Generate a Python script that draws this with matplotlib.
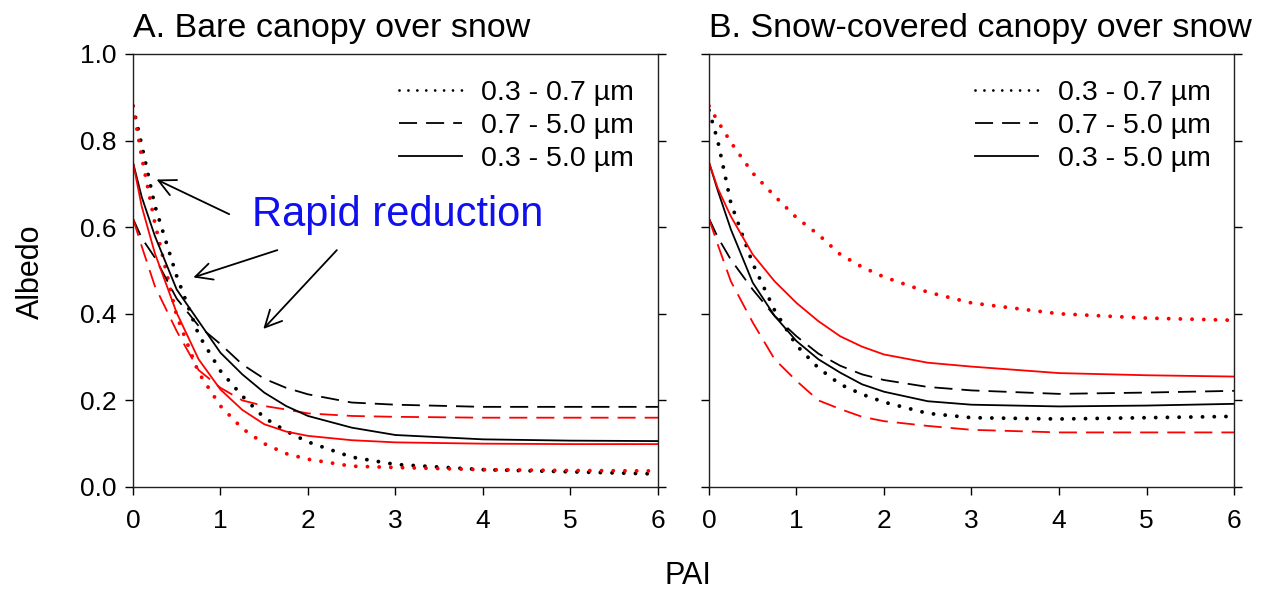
import matplotlib
matplotlib.use("Agg")
import matplotlib.pyplot as plt
from matplotlib.lines import Line2D

plt.rcParams['font.family'] = ['Liberation Sans', 'DejaVu Sans']

# PAI values
pai = [0, 0.1, 0.25, 0.5, 0.75, 1, 1.25, 1.5, 1.75, 2, 2.5, 3, 4, 5, 6]

# A. bare canopy over snow (black / red curves)
a_vis_black = [0.88, 0.79, 0.65, 0.487, 0.352, 0.268, 0.21, 0.16, 0.129, 0.104, 0.069, 0.052, 0.04, 0.035, 0.03]
a_vis_red = [0.88, 0.762, 0.61, 0.395, 0.264, 0.187, 0.135, 0.10, 0.077, 0.064, 0.048, 0.045, 0.04, 0.038, 0.037]
a_nir_black = [0.62, 0.575, 0.53, 0.435, 0.372, 0.33, 0.283, 0.25, 0.229, 0.214, 0.195, 0.19, 0.185, 0.185, 0.185]
a_nir_red = [0.62, 0.556, 0.464, 0.36, 0.27, 0.229, 0.20, 0.187, 0.179, 0.17, 0.164, 0.162, 0.16, 0.16, 0.16]
a_all_black = [0.75, 0.67, 0.58, 0.456, 0.383, 0.31, 0.26, 0.218, 0.187, 0.164, 0.137, 0.12, 0.11, 0.107, 0.106]
a_all_red = [0.75, 0.648, 0.54, 0.402, 0.295, 0.225, 0.178, 0.145, 0.128, 0.118, 0.108, 0.103, 0.10, 0.099, 0.099]

# B. snow-covered canopy over snow
b_vis_black = [0.87, 0.80, 0.656, 0.516, 0.408, 0.327, 0.275, 0.237, 0.214, 0.196, 0.17, 0.16, 0.157, 0.16, 0.163]
b_vis_red = [0.88, 0.845, 0.796, 0.725, 0.672, 0.622, 0.583, 0.537, 0.508, 0.485, 0.45, 0.425, 0.40, 0.39, 0.385]
b_nir_black = [0.62, 0.577, 0.525, 0.456, 0.395, 0.348, 0.308, 0.28, 0.26, 0.247, 0.231, 0.223, 0.215, 0.218, 0.222]
b_nir_red = [0.62, 0.56, 0.475, 0.38, 0.295, 0.245, 0.20, 0.18, 0.162, 0.152, 0.141, 0.132, 0.126, 0.126, 0.126]
b_all_black = [0.75, 0.685, 0.595, 0.472, 0.395, 0.337, 0.295, 0.264, 0.237, 0.22, 0.198, 0.19, 0.186, 0.188, 0.192]
b_all_red = [0.75, 0.69, 0.625, 0.537, 0.475, 0.425, 0.383, 0.348, 0.324, 0.306, 0.287, 0.278, 0.263, 0.258, 0.255]

band_labels = ['0.3 - 0.7 µm', '0.7 - 5.0 µm', '0.3 - 5.0 µm']
titles = ['A. Bare canopy over snow', 'B. Snow-covered canopy over snow']
x_ticks = [0, 1, 2, 3, 4, 5, 6]
y_ticks = [0.0, 0.2, 0.4, 0.6, 0.8, 1.0]

# arrows in panel A: (head, tail) in data units
arrows = [((0.27, 0.71), (1.10, 0.63)),
          ((0.69, 0.484), (1.65, 0.547)),
          ((1.49, 0.365), (2.33, 0.547))]

dot_style = dict(linestyle=(0, (0.01, 3.0)), linewidth=2.8, dash_capstyle='round')
dash_style = dict(linestyle=(0, (10, 5)), linewidth=1.3)
solid_style = dict(linestyle='-', linewidth=1.3)

fig = plt.figure(figsize=(12.71, 5.93), dpi=100, facecolor='white')
ax_a = fig.add_axes([0.1046, 0.1788, 0.4131, 0.7302])
ax_b = fig.add_axes([0.5578, 0.1788, 0.4131, 0.7302])

panels = [(ax_a, a_vis_black, a_vis_red, a_nir_black, a_nir_red, a_all_black, a_all_red),
          (ax_b, b_vis_black, b_vis_red, b_nir_black, b_nir_red, b_all_black, b_all_red)]

for i, (ax, vb, vr, nb, nr, sb, sr) in enumerate(panels):
    ax.plot(pai, vb, color='black', **dot_style)
    ax.plot(pai, vr, color='red', **dot_style)
    ax.plot(pai, nb, color='black', **dash_style)
    ax.plot(pai, nr, color='red', **dash_style)
    ax.plot(pai, sb, color='black', **solid_style)
    ax.plot(pai, sr, color='red', **solid_style)

    ax.set_xlim(0, 6)
    ax.set_ylim(0, 1)
    ax.set_xticks(x_ticks)
    ax.set_yticks(y_ticks)
    if i == 0:
        ax.set_yticklabels(['%.1f' % v for v in y_ticks])
    else:
        ax.set_yticklabels([])
    ax.tick_params(direction='out', length=6, width=1, labelsize=19,
                   right=True, pad=6)
    ax.tick_params(axis='x', pad=10)
    for sp in ax.spines.values():
        sp.set_linewidth(1.0)
        sp.set_color('#202020')

    ax.set_title(titles[i], loc='left', fontsize=24.5, pad=12)

    handles = [Line2D([], [], color='black', linestyle=(0, (0.01, 3.2)),
                      linewidth=2.0, dash_capstyle='round'),
               Line2D([], [], color='black', **dash_style),
               Line2D([], [], color='black', **solid_style)]
    ax.legend(handles, band_labels, loc='upper right', bbox_to_anchor=(0.955, 0.94),
              frameon=False, fontsize=20.5, handlelength=2.2, handletextpad=0.7,
              labelspacing=0.25, borderpad=0, borderaxespad=0)

# annotation in panel A
ax_a.text(3.02, 0.628, 'Rapid reduction', color='#1010ee', fontsize=30,
          ha='center', va='center')
for head, tail in arrows:
    ax_a.annotate('', xy=head, xytext=tail,
                  arrowprops=dict(arrowstyle='->', color='black', lw=1.3,
                                  mutation_scale=30, shrinkA=0, shrinkB=0))

fig.text(0.0244, 0.541, 'Albedo', rotation=90, fontsize=22, ha='center', va='center')
fig.text(0.541, 0.003, 'PAI', fontsize=22, ha='center', va='bottom')

fig.savefig('out.png', dpi=100, facecolor='white')
